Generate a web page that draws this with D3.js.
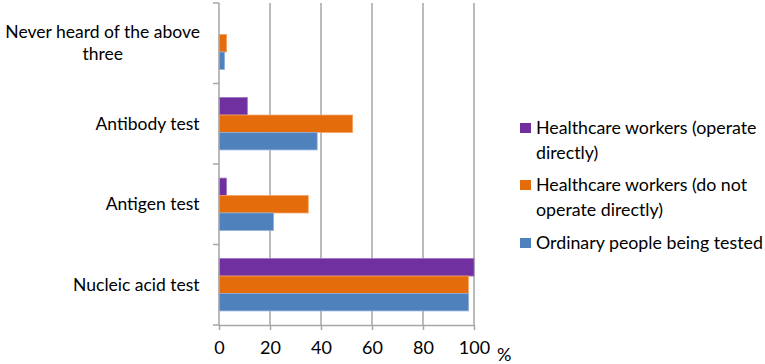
<!DOCTYPE html>
<html>
<head>
<meta charset="utf-8">
<script src="https://cdn.jsdelivr.net/npm/d3@7"></script>
<style>
  body { margin: 0; background: #fff; }
  text { font-family: Lato, "Open Sans", sans-serif; fill: #000; }
</style>
</head>
<body>
<div id="chart"></div>
<script>
// Data
const categories = ["Never heard of the above three", "Antibody test", "Antigen test", "Nucleic acid test"];
const seriesNames = ["Healthcare workers (operate directly)", "Healthcare workers (do not operate directly)", "Ordinary people being tested"];
const operateDirectly = [0, 11.1, 2.9, 100];
const notOperateDirectly = [3.0, 52.4, 35.0, 97.8];
const ordinaryPeople = [2.2, 38.5, 21.4, 97.9];
const xTicks = [0, 20, 40, 60, 80, 100];
const colors = ["#7030A0", "#E46C0A", "#4F81BD"];
const strokes = ["#9b6fc4", "#f5a060", "#8fb0dc"];

// Multi-line labels (as wrapped in the reference)
const categoryLines = [["Never heard of the above", "three"], ["Antibody test"], ["Antigen test"], ["Nucleic acid test"]];
const legendLines = [["Healthcare workers (operate", "directly)"], ["Healthcare workers (do not", "operate directly)"], ["Ordinary people being tested"]];

const seriesValues = [operateDirectly, notOperateDirectly, ordinaryPeople];
const data = categories.map((c, i) => ({
    category: c,
    values: seriesNames.map((s, j) => ({ key: s, value: seriesValues[j][i] }))
}));

const W = 765, H = 364;
const plot = { left: 219, right: 474, top: 3, bottom: 325 };

const svg = d3.select("#chart").append("svg")
    .attr("width", W)
    .attr("height", H);

const x = d3.scaleLinear().domain([0, 100]).range([plot.left, plot.right]);

const y0 = d3.scaleBand()
    .domain(categories)
    .range([plot.top, plot.bottom])
    .paddingInner(0.35)
    .paddingOuter(0.175);

const y1 = d3.scaleBand()
    .domain(seriesNames)
    .range([0, y0.bandwidth()]);

const color = d3.scaleOrdinal().domain(seriesNames).range(colors);
const stroke = d3.scaleOrdinal().domain(seriesNames).range(strokes);

// Vertical grid lines
svg.append("g")
    .selectAll("line")
    .data(xTicks.slice(1))
    .join("line")
    .attr("x1", d => x(d))
    .attr("x2", d => x(d))
    .attr("y1", plot.top)
    .attr("y2", plot.bottom)
    .attr("stroke", "#a6a6a6")
    .attr("stroke-width", 1.5);

// Bars
svg.append("g")
    .selectAll("g")
    .data(data)
    .join("g")
    .attr("transform", d => `translate(0,${y0(d.category)})`)
    .selectAll("rect")
    .data(d => d.values)
    .join("rect")
    .attr("x", x(0))
    .attr("y", d => y1(d.key))
    .attr("width", d => x(d.value) - x(0))
    .attr("height", y1.bandwidth())
    .attr("fill", d => color(d.key))
    .attr("stroke", d => d.value > 0 ? stroke(d.key) : "none")
    .attr("stroke-width", 0.8);

// X axis
const xAxis = svg.append("g")
    .attr("transform", `translate(0,${plot.bottom})`)
    .call(d3.axisBottom(x).tickValues(xTicks).tickSize(5).tickSizeOuter(0).tickPadding(11));
xAxis.select(".domain").attr("stroke", "#a6a6a6").attr("stroke-width", 1.5);
xAxis.selectAll(".tick line").attr("stroke", "#a6a6a6").attr("stroke-width", 1.5);
xAxis.selectAll(".tick text").attr("font-size", 18).attr("font-family", "Lato, sans-serif").attr("fill", "#000");

svg.append("text")
    .attr("x", 497)
    .attr("y", 361)
    .attr("font-size", 18)
    .text("%");

// Y axis (category boundaries as ticks)
const boundaries = categories.map(c => y0(c) - y0.step() * y0.paddingInner() / 2)
    .concat([plot.bottom]);
svg.append("line")
    .attr("x1", plot.left).attr("x2", plot.left)
    .attr("y1", plot.top).attr("y2", plot.bottom)
    .attr("stroke", "#a6a6a6").attr("stroke-width", 1.5);
svg.append("g")
    .selectAll("line")
    .data(boundaries)
    .join("line")
    .attr("x1", plot.left - 6).attr("x2", plot.left)
    .attr("y1", d => d).attr("y2", d => d)
    .attr("stroke", "#a6a6a6").attr("stroke-width", 1.5);

// Category labels, block right-aligned at x=200, lines centred
const catLabel = svg.append("g")
    .selectAll("text")
    .data(data)
    .join("text")
    .attr("text-anchor", "middle")
    .attr("font-size", 17.5);
catLabel.each(function(d, i) {
    const lines = categoryLines[i];
    const t = d3.select(this);
    const n = lines.length;
    lines.forEach((ln, k) => {
        t.append("tspan")
            .attr("x", 0)
            .attr("y", (k - (n - 1) / 2) * 22 + 6)
            .text(ln);
    });
    const bw = this.getBBox().width;
    const cy = y0(d.category) + y0.bandwidth() / 2;
    t.attr("transform", `translate(${200 - bw / 2},${cy})`);
});

// Legend
const legendTop = [128, 185, 243];
const legend = svg.append("g")
    .selectAll("g")
    .data(seriesNames)
    .join("g")
    .attr("transform", (d, i) => `translate(520,${legendTop[i]})`);

legend.append("rect")
    .attr("x", 0)
    .attr("y", -5)
    .attr("width", 11)
    .attr("height", 10)
    .attr("fill", d => color(d));

legend.append("text")
    .attr("font-size", 17.8)
    .each(function(d, i) {
        legendLines[i].forEach((ln, k) => {
            d3.select(this).append("tspan")
                .attr("x", 16)
                .attr("y", k * 25 + 6)
                .text(ln);
        });
    });
</script>
</body>
</html>
